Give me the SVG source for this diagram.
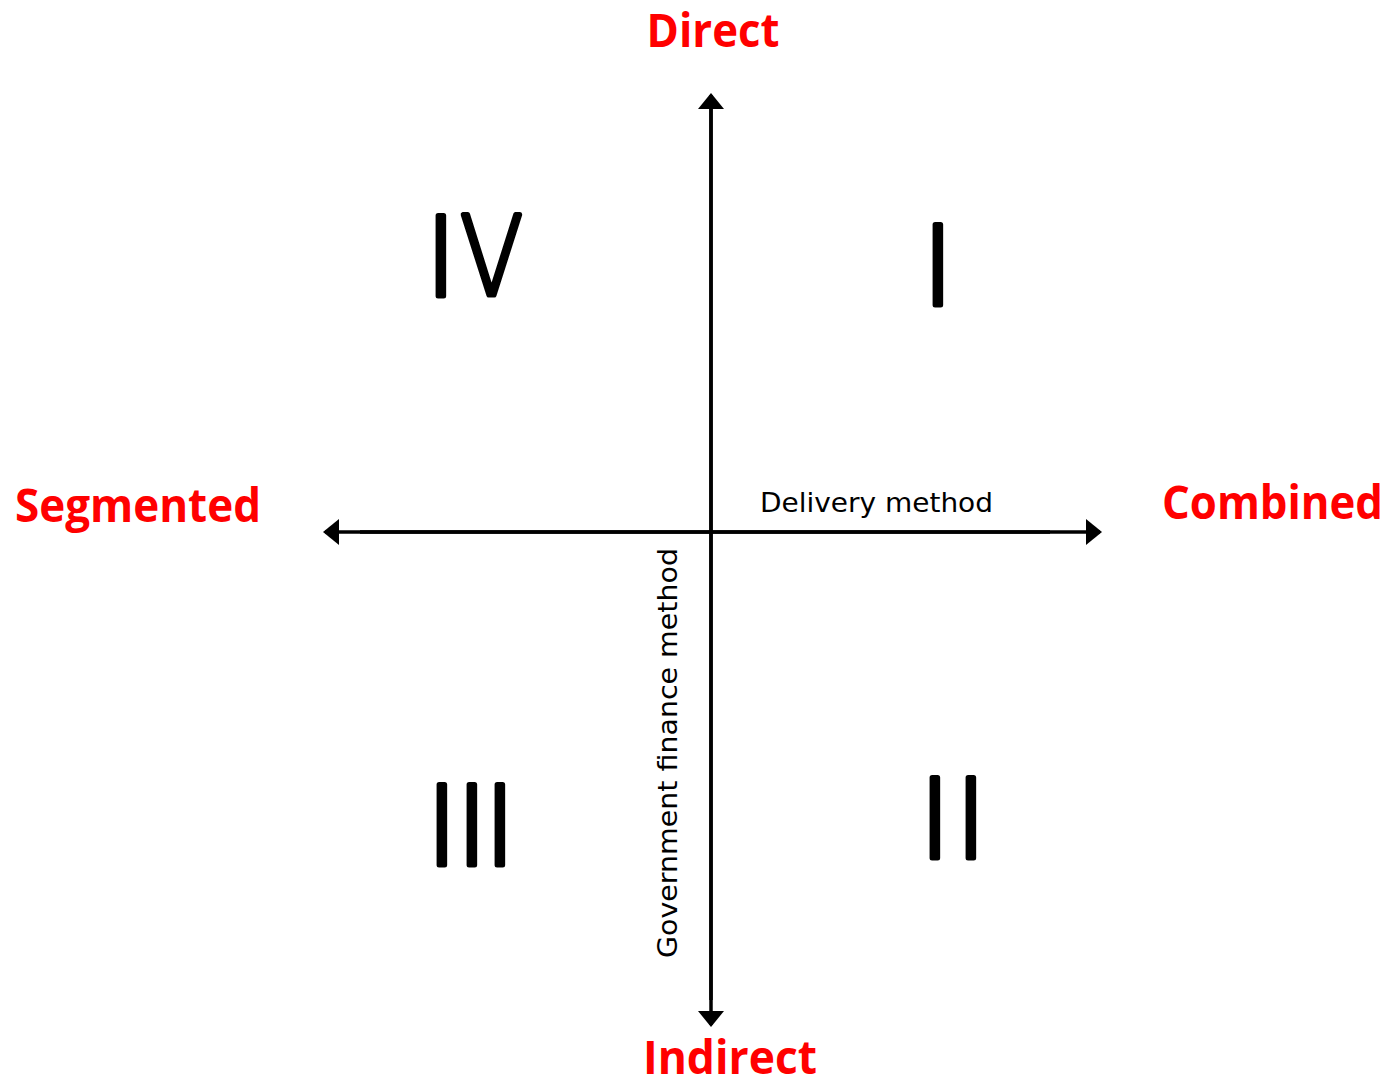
<svg xmlns="http://www.w3.org/2000/svg" width="1394" height="1085" viewBox="0 0 1394 1085">
<style>
.pole{font-family:"Open Sans","DejaVu Sans",sans-serif;font-weight:bold;font-size:46px;fill:#ff0000}
.axislbl{font-family:"DejaVu Sans","Open Sans",sans-serif;font-size:27px;fill:#000}
.num{font-family:"DejaVu Sans",sans-serif;font-weight:200;font-size:110px;fill:#000;stroke:#000;stroke-width:5;stroke-linejoin:round;stroke-linecap:round}
.axis{stroke:#000;stroke-width:3.5;fill:none}
</style>
<defs>
<marker id="ah" viewBox="0 0 16 26" refX="14" refY="13" markerWidth="16" markerHeight="26" markerUnits="userSpaceOnUse" orient="auto">
<path d="M0,0 L16,13 L0,26 Z" fill="#000"/>
</marker>
</defs>
<g id="connectors">
<line class="axis" x1="711" y1="1000" x2="711" y2="95" marker-end="url(#ah)"/>
<line class="axis" x1="711" y1="100" x2="711" y2="1025" marker-end="url(#ah)"/>
<line class="axis" x1="1050" y1="532" x2="325" y2="532" marker-end="url(#ah)"/>
<line class="axis" x1="360" y1="532" x2="1100" y2="532" marker-end="url(#ah)"/>
</g>
<g id="pole-direct"><text class="pole" x="713" y="47" text-anchor="middle" textLength="133" lengthAdjust="spacingAndGlyphs">Direct</text></g>
<g id="pole-indirect"><text class="pole" x="730" y="1074" text-anchor="middle" textLength="174" lengthAdjust="spacingAndGlyphs">Indirect</text></g>
<g id="pole-segmented"><text class="pole" x="15" y="522" textLength="246" lengthAdjust="spacingAndGlyphs">Segmented</text></g>
<g id="pole-combined"><text class="pole" x="1162" y="519" textLength="221" lengthAdjust="spacingAndGlyphs">Combined</text></g>
<g id="label-delivery"><text class="axislbl" x="760" y="512" textLength="233" lengthAdjust="spacingAndGlyphs">Delivery method</text></g>
<g id="label-finance"><text class="axislbl" transform="translate(677,958) rotate(-90)" x="0" y="0" textLength="410" lengthAdjust="spacingAndGlyphs">Government finance method</text></g>
<g id="q4"><text class="num" x="441" y="295.5" text-anchor="middle">I</text><text class="num" transform="translate(491.5,0) scale(0.84,1)" x="0" y="295.5" text-anchor="middle">V</text></g>
<g id="q1"><text class="num" x="938" y="304.5" text-anchor="middle">I</text></g>
<g id="q3"><text class="num" x="442 472 500" y="864.5" text-anchor="middle">III</text></g>
<g id="q2"><text class="num" x="935 971" y="857.5" text-anchor="middle">II</text></g>
</svg>
